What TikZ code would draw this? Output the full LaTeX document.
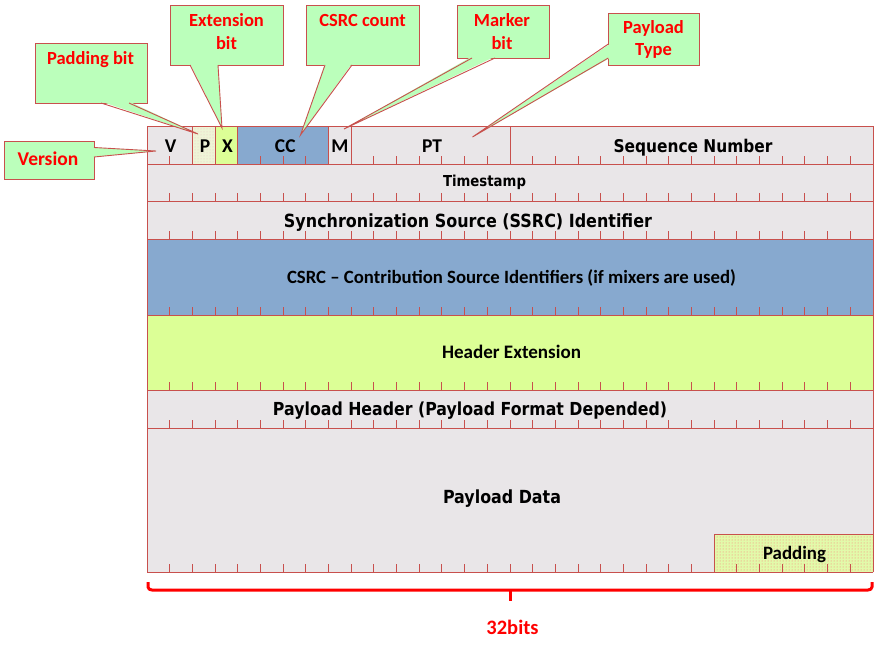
\documentclass[tikz,border=0pt]{standalone}
\usepackage{fontspec}
\usepackage{graphicx}
\usetikzlibrary{patterns}
\newfontfamily\calfont{Carlito}
\newfontfamily\tahfont{DejaVu Sans}[FakeStretch=0.88]
\definecolor{bordc}{RGB}{200,80,77}
\definecolor{rowgray}{RGB}{233,230,232}
\definecolor{csrcblue}{RGB}{135,169,207}
\definecolor{extgreen}{RGB}{220,255,150}
\definecolor{cgreen}{RGB}{187,255,187}
\definecolor{tred}{RGB}{255,0,0}
\definecolor{pfill}{RGB}{238,244,214}
\definecolor{padfill}{RGB}{226,250,170}
\newcommand{\tw}[2]{\resizebox{#1pt}{!}{\tahfont\bfseries\fontsize{17}{20}\selectfont #2}}
\newcommand{\cw}[2]{\resizebox{#1pt}{!}{\calfont\bfseries\fontsize{18}{20}\selectfont #2}}
\newcommand{\calltail}[5]{% base1 base2 inner1 inner2 tip
  \fill[cgreen] #3 -- #5 -- #4 -- cycle;
  \draw[bordline, line join=miter] #1 -- #5 -- #2;}
\tikzset{
  bordline/.style={draw=bordc, line width=0.9pt},
  cbox/.style={fill=cgreen, draw=bordc, line width=0.9pt},
  lab/.style={inner sep=0pt, anchor=base, text=black},
  hlab/.style={lab, font=\calfont\bfseries\fontsize{19.5}{22}\selectfont},
  clab/.style={inner sep=0pt, anchor=base, text=tred, font=\calfont\bfseries\fontsize{18.5}{20}\selectfont},
  bracestyle/.style={draw=tred, line width=3pt, line cap=butt, line join=round},
}
\begin{document}
\begin{tikzpicture}[x=1pt,y=-1pt]
\useasboundingbox (0,0) rectangle (878,645);
\fill[white] (0,0) rectangle (878,645);
% ---- fills
\fill[rowgray] (147,126) rectangle (873,572);
\fill[csrcblue] (147,239) rectangle (873,315);
\fill[extgreen] (147,315) rectangle (873,390);
\fill[pfill] (192.375,126) rectangle (215.0625,164);
\fill[pattern=dots, pattern color=bordc!35] (192.375,126) rectangle (215.0625,164);
\fill[extgreen] (215.0625,126) rectangle (237.75,164);
\fill[csrcblue] (237.75,126) rectangle (328.5,164);
\fill[padfill] (714.1875,534) rectangle (873,572);
\fill[pattern=dots, pattern color=red!55] (714.1875,534) rectangle (873,572);
% ---- ticks
\foreach \yy in {164,201,239,315,390,428,572}
  \foreach \k in {1,...,31}
    \draw[bordline] ({147+\k*22.6875},\yy) -- ++(0,-8);
% ---- grid lines
\foreach \yy in {126,164,201,239,315,390,428,572}
  \draw[bordline] (147,\yy) -- (873,\yy);
\draw[bordline] (147,126) -- (147,572);
\draw[bordline] (873,126) -- (873,572);
\foreach \xx in {192.375,215.0625,237.75,328.5,351.1875,510}
  \draw[bordline] (\xx,126) -- (\xx,164);
\draw[bordline] (714.1875,572) -- (714.1875,534) -- (873,534);
% ---- field labels
\node[hlab] (v)  at (170.7,152) {V};
\node[hlab] (p)  at (205,152) {P};
\node[hlab] (x)  at (227.5,152) {X};
\node[hlab] (cc) at (285.3,152) {CC};
\node[hlab] (m)  at (340,152) {M};
\node[hlab] (pt) at (432,152) {PT};
\node[lab] (seq)  at (693,152) {\tw{159}{Sequence Number}};
\node[lab] (ts)   at (484.5,186) {\tw{83}{Timestamp}};
\node[lab] (ssrc) at (468,227) {\tw{368}{Synchronization Source (SSRC) Identifier}};
\node[lab] (csrc) at (511.5,283) {\cw{449}{CSRC – Contribution Source Identifiers (if mixers are used)}};
\node[lab] (hext) at (511.5,358) {\cw{139}{Header Extension}};
\node[lab] (phdr) at (470,415) {\tw{394}{Payload Header (Payload Format Depended)}};
\node[lab] (pdat) at (502,503) {\tw{118}{Payload Data}};
\node[lab] (padl) at (794.5,559) {\cw{63}{Padding}};
% ---- callouts
% Version
\path[cbox] (4,141) rectangle (94,179);
\coordinate (tipv) at (156,151);
\calltail{(94,147.5)}{(94,157)}{(92.5,147.5)}{(92.5,157)}{(tipv)}
\node[clab, font=\calfont\bfseries\fontsize{19.5}{22}\selectfont] (cver) at (48,165.7) {Version};
% Padding bit
\path[cbox] (35,43) rectangle (147,103);
\coordinate (tipp) at (198,134);
\calltail{(101,103)}{(129,103)}{(101,101.5)}{(129,101.5)}{(tipp)}
\node[clab] (cpad) at (90.5,64) {Padding bit};
% Extension bit
\path[cbox] (170.5,5) rectangle (283,65);
\coordinate (tipx) at (222,128);
\calltail{(190,65)}{(218,65)}{(190,63.5)}{(218,63.5)}{(tipx)}
\node[clab] (cext1) at (226.5,26.7) {Extension};
\node[clab] (cext2) at (226.5,49.3) {bit};
% CSRC count
\path[cbox] (306.5,5) rectangle (419,65);
\coordinate (tipc) at (300.5,135);
\calltail{(325,65)}{(352,65)}{(325,63.5)}{(352,63.5)}{(tipc)}
\node[clab] (ccnt) at (362.5,26.7) {CSRC count};
% Marker bit
\path[cbox] (457,5) rectangle (549,58);
\coordinate (tipm) at (344,129);
\calltail{(472,58)}{(495,58)}{(472,56.5)}{(495,56.5)}{(tipm)}
\node[clab] (cmk1) at (502,26.7) {Marker};
\node[clab] (cmk2) at (502,49.3) {bit};
% Payload Type
\path[cbox] (608.3,13) rectangle (699.3,65);
\coordinate (tippt) at (472.5,137);
\calltail{(608.3,44)}{(608.3,58)}{(609.8,44)}{(609.8,58)}{(tippt)}
\node[clab] (cpt1) at (653.5,33.3) {Payload};
\node[clab] (cpt2) at (653.5,55.5) {Type};
% ---- brace
\coordinate (bl) at (148,582);
\coordinate (br) at (872,582);
\coordinate (bm) at (510.5,590);
\coordinate (bt) at (510.5,601);
\draw[bracestyle] (bl) -- (148,587) to[out=-90,in=180] (152,590) -- (868,590) to[out=0,in=-90] (872,587) -- (br);
\draw[bracestyle] (bm) -- (bt);
\node[inner sep=0pt, anchor=base, text=tred, font=\calfont\bfseries\fontsize{20.5}{22}\selectfont] (bits) at (512.5,634) {32bits};
\end{tikzpicture}
\end{document}
